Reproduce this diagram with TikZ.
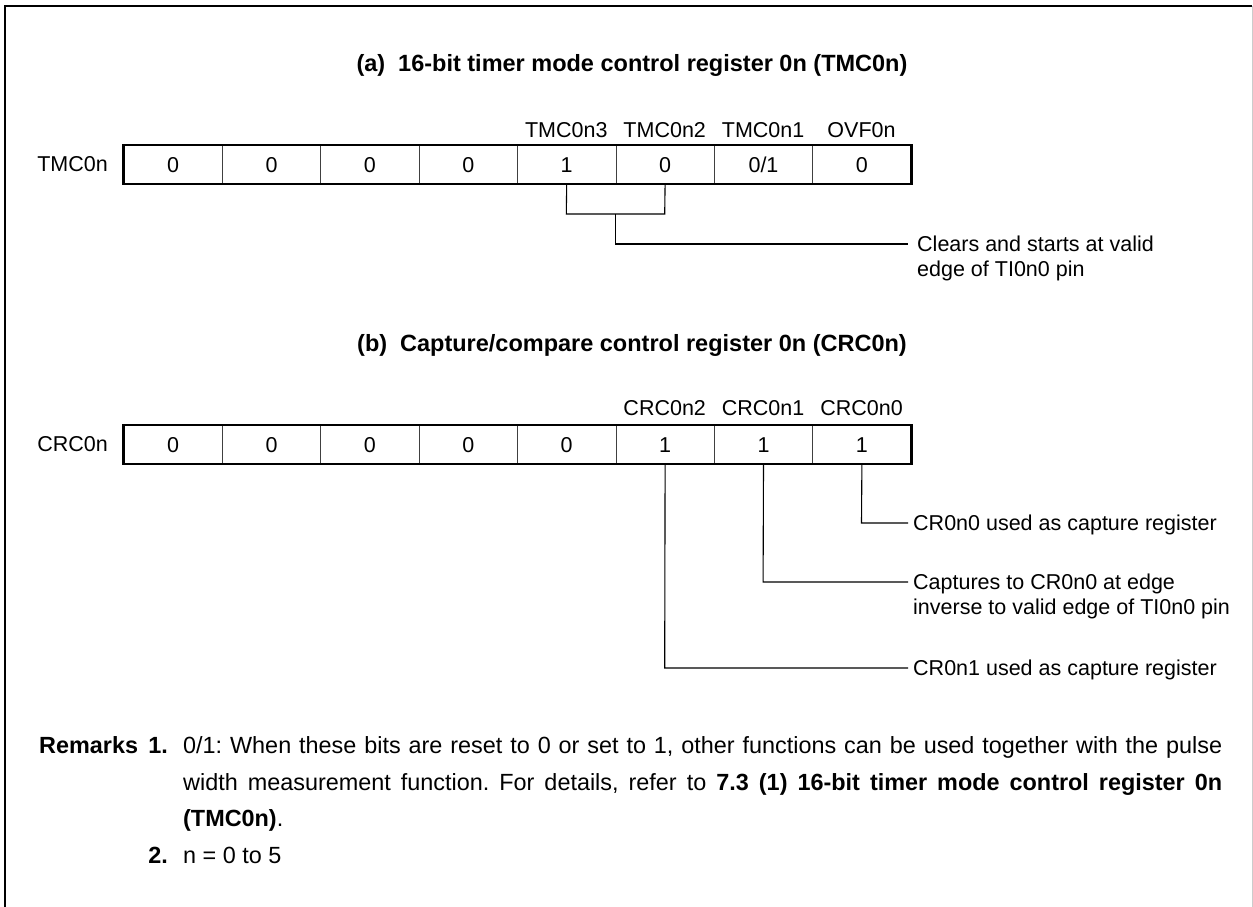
\documentclass[tikz,border=0pt]{standalone}
\usepackage{fontspec}
\setmainfont{Liberation Sans}
\frenchspacing
\begin{document}
\begin{tikzpicture}[x=1pt,y=-1pt,
  every node/.style={font=\fontsize{21.5}{25}\selectfont, inner sep=0pt},
  cell/.style={draw=black!75, line width=0.8pt, minimum width=98.4pt, minimum height=38pt, text height=15.4pt, text depth=0pt, anchor=north west},
  regbox/.style={line width=2.6pt},
  conn/.style={line width=1.1pt},
  lbl/.style={anchor=center, text height=15.4pt, text depth=0pt},
  desc/.style={anchor=north west, align=left},
  title/.style={font=\fontsize{23.5}{28}\selectfont\bfseries},
  rmk/.style={font=\fontsize{23.4}{28}\selectfont},
  rmkb/.style={font=\fontsize{23.4}{28}\selectfont\bfseries},
  frame/.style={line width=2.2pt}]
\useasboundingbox (0,0) rectangle (1253,907);
% frame
\draw[frame] (5,907) -- (5,6) -- (1252,6);
\draw[gray!40, line width=1pt] (1252,6) -- (1252,907);
% titles
\node[title] (tta) at (632,65) {(a)\hspace{0.55em}16-bit timer mode control register 0n (TMC0n)};
\node[title] (ttb) at (632,345) {(b)\hspace{0.55em}Capture/compare control register 0n (CRC0n)};
% TMC0n register
\node[lbl, anchor=east] (tname) at (108,164) {TMC0n};
\foreach \v [count=\i] in {0,0,0,0,1,0,{0/1},0}
  \node[cell] (t\i) at ({123.5+98.4*(\i-1)},145) {\v};
\draw[regbox] (t1.north west) rectangle (t8.south east);
\node[lbl] (lt5) at ({123.5+98.4*4.5},130) {TMC0n3};
\node[lbl] (lt6) at ({123.5+98.4*5.5},130) {TMC0n2};
\node[lbl] (lt7) at ({123.5+98.4*6.5},130) {TMC0n1};
\node[lbl] (lt8) at ({123.5+98.4*7.5},130) {OVF0n};
\coordinate (ba) at ({123.5+98.4*4.5},214);
\coordinate (bb) at ({123.5+98.4*5.5},214);
\coordinate (bm) at ({123.5+98.4*5},214);
\coordinate (bk) at ({123.5+98.4*5},244);
\coordinate (be) at (908,244);
\draw[conn] (t5.south) -- (ba) -- (bb) -- (t6.south);
\draw[conn] (bm) -- (bk) -- (be);
\node[desc] (da) at (917,236) {Clears and starts at valid\\edge of TI0n0 pin};
% CRC0n register
\node[lbl, anchor=east] (cname) at (108,444) {CRC0n};
\foreach \v [count=\i] in {0,0,0,0,0,1,1,1}
  \node[cell] (c\i) at ({123.5+98.4*(\i-1)},425) {\v};
\draw[regbox] (c1.north west) rectangle (c8.south east);
\node[lbl] (lc6) at ({123.5+98.4*5.5},408) {CRC0n2};
\node[lbl] (lc7) at ({123.5+98.4*6.5},408) {CRC0n1};
\node[lbl] (lc8) at ({123.5+98.4*7.5},408) {CRC0n0};
\coordinate (k8) at ({123.5+98.4*7.5},523);
\coordinate (e8) at (908,523);
\coordinate (k7) at ({123.5+98.4*6.5},582);
\coordinate (e7) at (908,582);
\coordinate (k6) at ({123.5+98.4*5.5},668);
\coordinate (e6) at (908,668);
\draw[conn] (c8.south) -- (k8) -- (e8);
\draw[conn] (c7.south) -- (k7) -- (e7);
\draw[conn] (c6.south) -- (k6) -- (e6);
\node[desc] (d8) at (913,515) {CR0n0 used as capture register};
\node[desc] (d7) at (913,574) {Captures to CR0n0 at edge\\inverse to valid edge of TI0n0 pin};
\node[desc] (d6) at (913,660) {CR0n1 used as capture register};
% remarks
\node[anchor=base west, rmkb] (rm) at (39,753.5) {Remarks};
\node[anchor=base east, rmkb] (r1) at (168,753.5) {1.};
\node[anchor=base west, rmk] (rl1) at (183,753.5) {\makebox[1039pt][s]{0/1: When these bits are reset to 0 or set to 1, other functions can be used together with the pulse}};
\node[anchor=base west, rmk] (rl2) at (183,790) {\makebox[1039pt][s]{width measurement function. For details, refer to \textbf{7.3 (1) 16-bit timer mode control register 0n}}};
\node[anchor=base west, rmk] (rl3) at (183,826.5) {\textbf{(TMC0n)}.};
\node[anchor=base east, rmkb] (r2) at (168,863) {2.};
\node[anchor=base west, rmk] (rl4) at (183,863) {n = 0 to 5};
\end{tikzpicture}
\end{document}
